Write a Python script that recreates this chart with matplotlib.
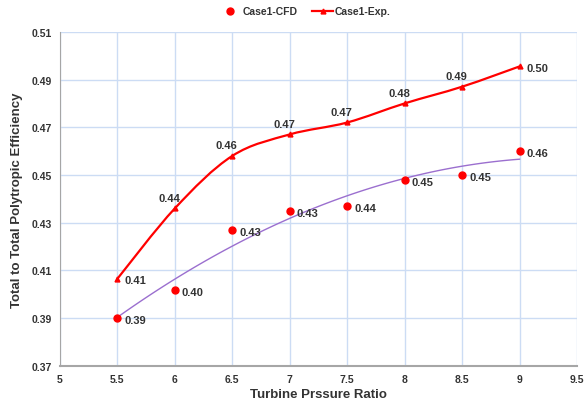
import numpy as np
import matplotlib.pyplot as plt
from matplotlib.path import Path
from matplotlib.patches import PathPatch

plt.rcParams['font.family'] = ['Liberation Sans', 'DejaVu Sans']

pressure_ratio = [5.5, 6.0, 6.5, 7.0, 7.5, 8.0, 8.5, 9.0]
eff_cfd = [0.390, 0.402, 0.427, 0.435, 0.437, 0.448, 0.450, 0.460]
eff_exp = [0.4065, 0.436, 0.458, 0.467, 0.472, 0.480, 0.487, 0.4955]

x_ticks = [5, 5.5, 6, 6.5, 7, 7.5, 8, 8.5, 9, 9.5]
y_ticks = [0.37, 0.39, 0.41, 0.43, 0.45, 0.47, 0.49, 0.51]

text_col = '#333333'
grid_col = '#CCDCF4'


def smooth_path(xs, ys):
    # Catmull-Rom style cubic segments, like a spreadsheet "smoothed line"
    pts = np.column_stack([xs, ys])
    verts = [pts[0]]
    codes = [Path.MOVETO]
    n = len(pts)
    for i in range(n - 1):
        p0 = pts[i - 1] if i > 0 else pts[i]
        p1 = pts[i]
        p2 = pts[i + 1]
        p3 = pts[i + 2] if i + 2 < n else pts[i + 1]
        c1 = p1 + (p2 - p0) / 6.0
        c2 = p2 - (p3 - p1) / 6.0
        verts += [c1, c2, p2]
        codes += [Path.CURVE4] * 3
    return Path(verts, codes)


fig = plt.figure(figsize=(5.87, 4.10), dpi=100)
ax = fig.add_axes([0.102, 0.105, 0.881, 0.815])

# experimental curve (smoothed) with small markers
ax.add_patch(PathPatch(smooth_path(pressure_ratio, eff_exp), facecolor='none',
                       edgecolor='#FF0000', lw=1.6, zorder=3))
ax.plot(pressure_ratio, eff_exp, linestyle='none', marker='^', color='#FF0000',
        markersize=3.5, zorder=4)

# CFD points and quadratic trend line
ax.plot(pressure_ratio, eff_cfd, linestyle='none', marker='o', color='#FF0000',
        markersize=5, zorder=4)
coef = np.polyfit(pressure_ratio, eff_cfd, 2)
xt = np.linspace(pressure_ratio[0], pressure_ratio[-1], 100)
ax.plot(xt, np.polyval(coef, xt), color='#9B6FCF', lw=1.0, zorder=3)

# legend proxies
h_cfd, = ax.plot([], [], linestyle='none', marker='o', color='#FF0000', markersize=5)
h_exp, = ax.plot([], [], color='#FF0000', lw=1.6, marker='^', markersize=3.5)
fig.legend([h_cfd, h_exp], ['Case1-CFD', 'Case1-Exp.'], loc='upper center',
           bbox_to_anchor=(0.52, 1.005), ncol=2, frameon=False, handlelength=2.0,
           columnspacing=1.4, handletextpad=0.2,
           prop={'weight': 'bold', 'size': 7.5}, labelcolor=text_col)

# data labels
lab = dict(fontsize=8, fontweight='bold', color=text_col, zorder=5)
for i, (x, y) in enumerate(zip(pressure_ratio, eff_exp)):
    if i == 0 or i == len(pressure_ratio) - 1:
        ax.annotate(f'{y:.2f}', (x, y), xytext=(5, -1), textcoords='offset points',
                    ha='left', va='center', **lab)
    else:
        ax.annotate(f'{y:.2f}', (x, y), xytext=(-4, 4), textcoords='offset points',
                    ha='center', va='bottom', **lab)
for x, y in zip(pressure_ratio, eff_cfd):
    ax.annotate(f'{y:.2f}', (x, y), xytext=(5, -1.5), textcoords='offset points',
                ha='left', va='center', **lab)

ax.set_xlim(5, 9.5)
ax.set_ylim(0.37, 0.51)
ax.set_xticks(x_ticks)
ax.set_xticklabels([f'{v:g}' for v in x_ticks])
ax.set_yticks(y_ticks)
ax.set_yticklabels([f'{v:.2f}' for v in y_ticks])
ax.grid(True, color=grid_col, lw=1.0)
ax.set_axisbelow(True)
for s in ['top', 'right']:
    ax.spines[s].set_visible(False)
for s in ['left', 'bottom']:
    ax.spines[s].set_color('#A6A6A6')
ax.spines['bottom'].set_linewidth(1.5)
ax.tick_params(length=0, labelsize=7.5, labelcolor=text_col, pad=6)
for t in ax.get_xticklabels() + ax.get_yticklabels():
    t.set_fontweight('bold')

ax.set_xlabel('Turbine Prssure Ratio', fontsize=9.5, fontweight='bold',
              color=text_col, labelpad=3)
ax.set_ylabel('Total to Total Polytropic Efficiency', fontsize=9.5,
              fontweight='bold', color=text_col, labelpad=6)

fig.savefig('out.png', dpi=100)
